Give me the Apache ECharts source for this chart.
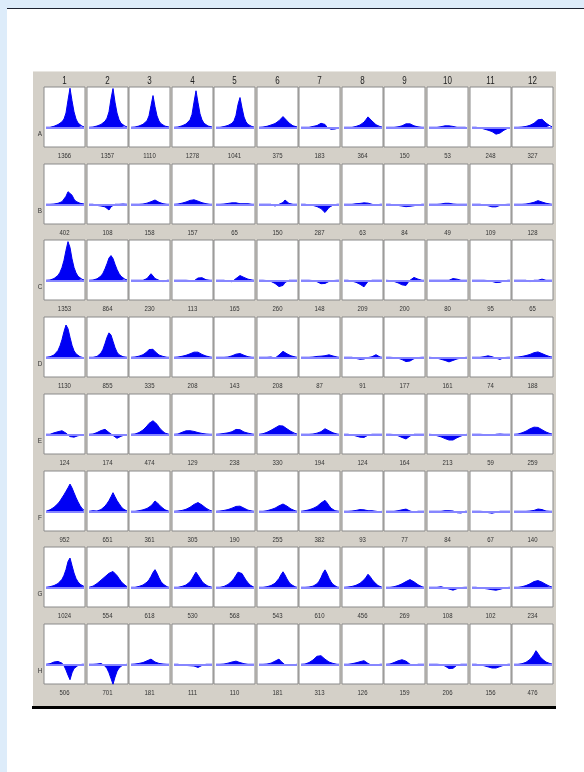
<!DOCTYPE html>
<html><head><meta charset="utf-8">
<script src="https://cdn.jsdelivr.net/npm/echarts@6/dist/echarts.min.js"></script>
<style>html,body{margin:0;padding:0;background:#fff}#c{width:584px;height:772px}</style>
</head><body><div id="c"></div>
<script>
const rowNames = ['A','B','C','D','E','F','G','H'];
const colNames = ['1','2','3','4','5','6','7','8','9','10','11','12'];

const labelsA = [1366,1357,1110,1278,1041,375,183,364,150,53,248,327];
const labelsB = [402,108,158,157,65,150,287,63,84,49,109,128];
const labelsC = [1353,864,230,113,165,260,148,209,200,80,95,65];
const labelsD = [1130,855,335,208,143,208,87,91,177,161,74,188];
const labelsE = [124,174,474,129,238,330,194,124,164,213,59,259];
const labelsF = [952,651,361,305,190,255,382,93,77,84,67,140];
const labelsG = [1024,554,618,530,568,543,610,456,269,108,102,234];
const labelsH = [506,701,181,111,110,181,313,126,159,206,156,476];

const curvesA = [
[0,0,0,15,35,60,95,135,190,290,500,950,1366,930,540,290,150,80,40,15],
[0,0,10,25,45,70,100,145,210,320,540,1000,1357,880,500,270,140,75,40,15],
[0,0,10,25,45,70,105,150,230,400,760,1110,720,400,220,125,70,40,20,10],
[0,0,10,30,50,80,115,170,260,450,880,1278,860,470,260,140,80,45,20,10],
[0,0,0,10,25,40,65,95,140,230,420,800,1041,680,360,190,100,50,25,10],
[0,0,10,15,35,50,80,100,130,165,230,300,375,330,230,150,80,50,30,15],
[0,0,0,0,0,10,30,50,60,90,140,183,100,0,-50,-70,-70,-60,-50,-20],
[0,0,0,0,0,10,30,50,80,120,180,270,364,300,220,150,90,50,25,10],
[0,0,0,0,0,5,15,30,50,80,120,150,120,80,50,30,15,5,0,0],
[0,0,0,0,0,0,20,40,50,53,50,45,30,10,0,-10,0,-10,0,-10],
[0,0,0,0,-20,-40,-60,-80,-100,-120,-150,-190,-240,-248,-200,-150,-100,-60,-30,-10],
[0,0,0,0,10,20,30,50,70,100,140,190,260,327,280,220,150,90,50,20]
];
const curvesB = [
[0,0,0,0,10,20,35,55,90,160,280,440,480,320,180,100,60,35,20,10],
[0,0,0,-20,-40,-50,-60,-70,-90,-140,-200,-90,-30,0,0,0,0,10,0,0],
[0,0,0,0,0,0,10,20,40,60,90,130,150,120,70,40,20,10,0,0],
[0,0,10,20,40,60,80,110,135,150,157,140,110,80,55,35,20,10,0,0],
[0,0,0,0,10,20,30,40,50,65,50,30,20,10,20,30,20,10,0,0],
[0,0,0,0,0,-10,0,-20,-60,-40,0,20,60,150,80,30,10,0,0,0],
[0,0,0,-10,-20,-30,-40,-60,-80,-110,-150,-210,-287,-200,-110,-60,-30,-10,0,0],
[0,0,0,0,0,10,20,20,30,40,50,63,40,20,0,-20,-40,-10,0,0],
[0,0,0,-10,-20,-30,-40,-50,-60,-70,-84,-80,-70,-60,-50,-40,-20,-10,0,0],
[0,0,0,0,0,0,10,20,35,49,35,20,10,0,0,0,0,0,0,0],
[0,0,0,0,0,-10,-20,-30,-50,-70,-90,-109,-90,-60,-40,-20,-10,0,0,0],
[0,0,0,0,0,0,10,20,35,50,70,95,128,110,80,55,35,20,10,0]
];
const curvesC = [
[0,0,10,30,60,100,170,280,450,700,1050,1353,1150,750,450,260,140,70,35,15],
[0,0,10,25,50,90,150,250,400,580,780,864,760,560,380,240,140,70,35,15],
[0,0,0,0,0,0,0,20,60,130,230,150,60,20,0,0,-50,0,0,0],
[0,0,0,0,0,0,0,0,-10,-40,-20,30,80,113,90,50,20,10,0,0],
[0,0,0,0,0,-10,-30,-60,-50,0,60,120,165,140,100,70,40,20,10,0],
[0,0,0,0,-10,-20,-40,-70,-110,-160,-220,-280,-180,-80,-30,0,0,0,0,0],
[0,0,0,0,0,0,-10,-30,-50,-80,-120,-148,-110,-70,-40,-20,-10,0,0,0],
[0,0,0,-10,-30,-50,-70,-100,-140,-190,-230,-130,-40,0,0,0,0,0,0,0],
[0,0,-10,-20,-40,-60,-90,-120,-160,-200,-180,-80,0,60,100,80,40,10,0,0],
[0,0,0,0,0,0,0,0,0,0,0,20,60,80,40,10,0,0,0,0],
[0,0,0,0,0,0,0,0,-10,-20,-40,-60,-80,-95,-70,-40,-20,0,0,0],
[0,0,0,0,0,0,0,-20,-50,-10,0,0,0,20,40,20,0,0,0,0]
];
const curvesD = [
[0,10,20,40,80,140,240,400,620,900,1130,1000,700,420,230,120,60,20,-20,-20],
[0,0,0,10,30,70,150,280,480,700,855,780,560,340,180,90,40,20,10,0],
[0,0,10,20,40,60,90,130,190,270,335,280,200,130,80,50,30,10,0,0],
[0,0,10,20,35,50,70,90,120,150,180,208,180,140,100,70,45,25,10,0],
[0,0,0,0,0,0,10,30,50,80,110,143,130,100,70,40,20,10,0,0],
[0,0,0,0,0,0,10,30,-30,40,80,150,208,170,120,80,50,30,15,0],
[0,0,0,0,0,0,10,20,30,35,40,45,55,75,87,70,45,25,10,0],
[0,0,0,0,0,-20,-40,-60,-70,-70,-60,-40,-10,0,20,70,91,50,10,0],
[0,0,0,0,-10,-20,-30,-50,-80,-120,-150,-177,-130,-80,-50,-30,-10,0,0,0],
[0,0,-10,-20,-30,-50,-70,-90,-110,-140,-161,-150,-110,-80,-60,-40,-25,-15,-5,0],
[0,0,0,0,0,10,20,40,50,40,20,0,-30,-60,-74,-40,-10,0,0,0],
[0,0,10,20,30,40,60,80,100,130,160,180,188,160,130,100,70,40,20,10]
];
const curvesE = [
[0,0,0,20,50,70,90,110,124,90,40,-20,-80,-120,-100,-70,-50,-40,-30,-20],
[0,0,10,30,60,100,130,160,174,120,60,0,-40,-90,-140,-110,-70,-40,-20,-10],
[0,0,10,30,60,100,150,210,290,380,450,474,440,350,250,160,90,40,20,0],
[0,0,10,40,70,100,120,129,125,115,100,80,60,45,30,20,10,5,0,0],
[0,0,10,20,30,40,50,70,90,120,170,238,160,110,80,60,40,20,10,0],
[0,0,20,40,70,100,140,180,220,260,300,330,290,240,190,140,100,60,30,10],
[0,0,0,0,0,0,10,20,40,60,90,140,194,160,120,80,50,25,10,0],
[0,0,0,0,-20,-40,-60,-80,-100,-124,-110,-70,-30,0,0,0,0,0,0,0],
[0,0,0,0,-10,-30,-50,-80,-110,-140,-164,-110,-60,-20,0,20,0,0,0,0],
[0,0,-10,-30,-50,-70,-90,-120,-150,-180,-200,-213,-200,-160,-120,-90,-60,-35,-15,0],
[0,0,0,0,0,0,-10,-20,-40,-59,-40,-20,0,30,10,0,0,0,0,0],
[0,0,10,30,50,80,110,150,190,230,250,259,240,200,160,120,80,50,25,10]
];
const curvesF = [
[0,20,50,90,140,200,270,360,470,580,700,820,952,820,650,480,330,200,100,40],
[0,0,20,0,10,30,60,110,180,270,375,510,651,510,375,270,170,85,35,10],
[0,0,0,10,20,30,50,70,100,140,190,270,361,320,240,160,100,50,20,0],
[0,0,10,20,30,50,70,100,140,190,240,280,305,270,220,160,110,60,30,10],
[0,0,10,20,30,40,60,80,110,140,170,190,180,150,110,70,40,20,10,0],
[0,0,0,10,20,40,60,80,110,150,190,230,255,230,180,130,80,40,20,0],
[0,10,20,30,50,70,100,130,170,220,290,360,382,300,200,110,50,20,0,0],
[0,0,0,0,10,20,30,40,60,93,50,30,20,30,20,10,0,-30,-20,0],
[0,0,0,0,0,10,20,30,50,70,77,40,10,-20,-30,-20,0,0,0,0],
[0,0,0,0,0,0,0,20,20,20,20,20,10,-20,-50,-84,-60,-30,0,0],
[0,0,0,0,0,0,-10,-25,-45,-60,-67,-55,-35,-15,0,0,0,0,0,0],
[0,0,0,0,0,0,0,0,10,20,30,50,80,140,60,20,10,0,0,0]
];
const curvesG = [
[0,10,20,40,60,90,130,190,280,420,620,900,1024,760,500,310,190,110,60,30],
[0,10,40,80,130,190,250,310,370,430,490,540,554,500,410,310,210,130,60,20],
[0,0,0,10,30,50,80,120,180,260,380,520,618,490,330,200,115,60,20,0],
[0,0,0,10,30,50,80,120,190,290,420,530,460,320,210,130,80,40,20,0],
[0,0,0,10,30,60,100,150,220,310,420,530,568,480,360,250,160,80,30,0],
[0,0,0,10,20,40,60,90,140,210,310,440,543,430,290,180,100,50,20,0],
[0,0,0,0,10,20,40,70,120,210,340,500,610,480,320,190,100,40,10,0],
[0,0,10,20,30,50,70,100,140,190,260,350,456,380,280,190,120,60,20,0],
[0,0,0,10,20,40,60,90,120,160,200,240,269,240,190,140,90,50,20,0],
[0,0,0,0,0,0,20,0,-20,-40,-60,-80,-100,-80,-50,-30,-10,0,0,0],
[0,0,0,-10,-20,-30,-40,-50,-60,-70,-85,-95,-102,-90,-70,-50,-30,-15,-5,0],
[0,0,0,10,20,40,60,90,120,160,200,220,234,210,180,140,100,60,30,10]
];
const curvesH = [
[0,0,20,50,80,100,100,80,40,-50,-200,-380,-540,-300,-150,-80,-40,-20,0,0],
[0,0,0,0,10,20,30,0,-60,-150,-300,-500,-701,-450,-250,-130,-60,-20,0,0],
[0,0,10,20,30,40,60,90,120,160,181,130,80,50,30,20,10,10,0,0],
[0,0,0,-20,-30,-40,-40,-40,-50,-50,-60,-80,-111,-70,-40,-20,0,0,0,0],
[0,0,0,0,10,20,40,60,80,100,110,90,60,40,20,10,0,0,0,0],
[0,0,0,0,10,20,40,70,110,160,181,100,30,-20,-30,-30,-30,-20,-10,0],
[0,0,10,30,60,100,150,220,280,313,300,250,180,120,80,50,30,10,0,0],
[0,0,0,10,20,30,50,70,90,110,126,80,30,0,-40,-50,-40,0,0,0],
[0,0,10,30,60,90,120,140,159,150,110,50,0,-40,-40,-20,0,0,0,0],
[0,0,0,0,0,0,-10,-30,-60,-100,-150,-206,-140,-70,-30,-10,0,0,0,0],
[0,0,0,-10,-20,-30,-50,-70,-90,-110,-130,-156,-130,-100,-80,-50,-30,-10,0,0],
[0,0,0,10,20,40,70,110,170,250,350,476,380,270,190,130,80,50,25,10]
];

const labels = [labelsA,labelsB,labelsC,labelsD,labelsE,labelsF,labelsG,labelsH];
const curves = [curvesA,curvesB,curvesC,curvesD,curvesE,curvesF,curvesG,curvesH];

// layout
const X0 = 44, Y0 = 87, PX = 42.55, PY = 76.7, CW = 41, CH = 60;
const FONT = '"Liberation Sans Narrow","Liberation Sans",Arial,sans-serif';

function label(text, x, y, size, sx, color) {
  return {type:'text', z:50, silent:true, x:x, y:y, scaleX:sx, scaleY:1,
    style:{text:text, x:0, y:0, fill:color, font:size + 'px ' + FONT, align:'center', verticalAlign:'middle'}};
}

const grid = [], xAxis = [], yAxis = [], series = [];
const elements = [
  {type:'rect', z:-20, silent:true, shape:{x:0,y:0,width:584,height:772}, style:{fill:'#ddecfa'}},
  {type:'rect', z:-19, silent:true, shape:{x:7,y:9,width:577,height:763}, style:{fill:'#ffffff'}},
  {type:'rect', z:-19, silent:true, shape:{x:7,y:8,width:577,height:1}, style:{fill:'#1c2230'}},
  {type:'rect', z:-18, silent:true, shape:{x:33,y:71,width:523,height:636}, style:{fill:'#d4d0c8'}},
  {type:'rect', z:-18, silent:true, shape:{x:33,y:71,width:523,height:1}, style:{fill:'#e8e6e1'}},
  {type:'rect', z:-17, silent:true, shape:{x:32,y:706,width:524,height:3}, style:{fill:'#000000'}}
];

colNames.forEach((c, ci) => {
  elements.push(label(c, Math.round(X0 + ci*PX) + CW/2, 81, 10, 0.8, '#222'));
});

rowNames.forEach((r, ri) => {
  const top = Math.round(Y0 + ri*PY);
  elements.push(label(r, 40, top + 47, 8, 0.8, '#333'));
  colNames.forEach((c, ci) => {
    const k = ri*12 + ci;
    const left = Math.round(X0 + ci*PX);
    grid.push({left:left, top:top, width:CW, height:CH, show:true, backgroundColor:'#ffffff',
      borderColor:'#8a8a8a', borderWidth:1});
    xAxis.push({gridIndex:k, type:'value', min:-1, max:19.5, show:false});
    yAxis.push({gridIndex:k, type:'value', min:-690, max:1410, show:false});
    series.push({
      type:'line', xAxisIndex:k, yAxisIndex:k, silent:true, animation:false,
      symbol:'none', showSymbol:false,
      data: curves[ri][ci].map((v, i) => [i, v]),
      lineStyle:{color:'#0000f4', width:1},
      areaStyle:{color:'#0000f4', opacity:1},
      markLine:{silent:true, animation:false, symbol:['none','none'], label:{show:false},
        lineStyle:{color:'#8686ff', width:2, type:'solid'},
        data:[[{coord:[0,0]},{coord:[19,0]}]]}
    });
    elements.push(label(String(labels[ri][ci]), left + CW/2, top + CH + 9, 8, 0.75, '#333'));
  });
});

const chart = echarts.init(document.getElementById('c'));
chart.setOption({
  animation:false,
  grid, xAxis, yAxis, series,
  graphic:{elements}
});
</script>
</body></html>
